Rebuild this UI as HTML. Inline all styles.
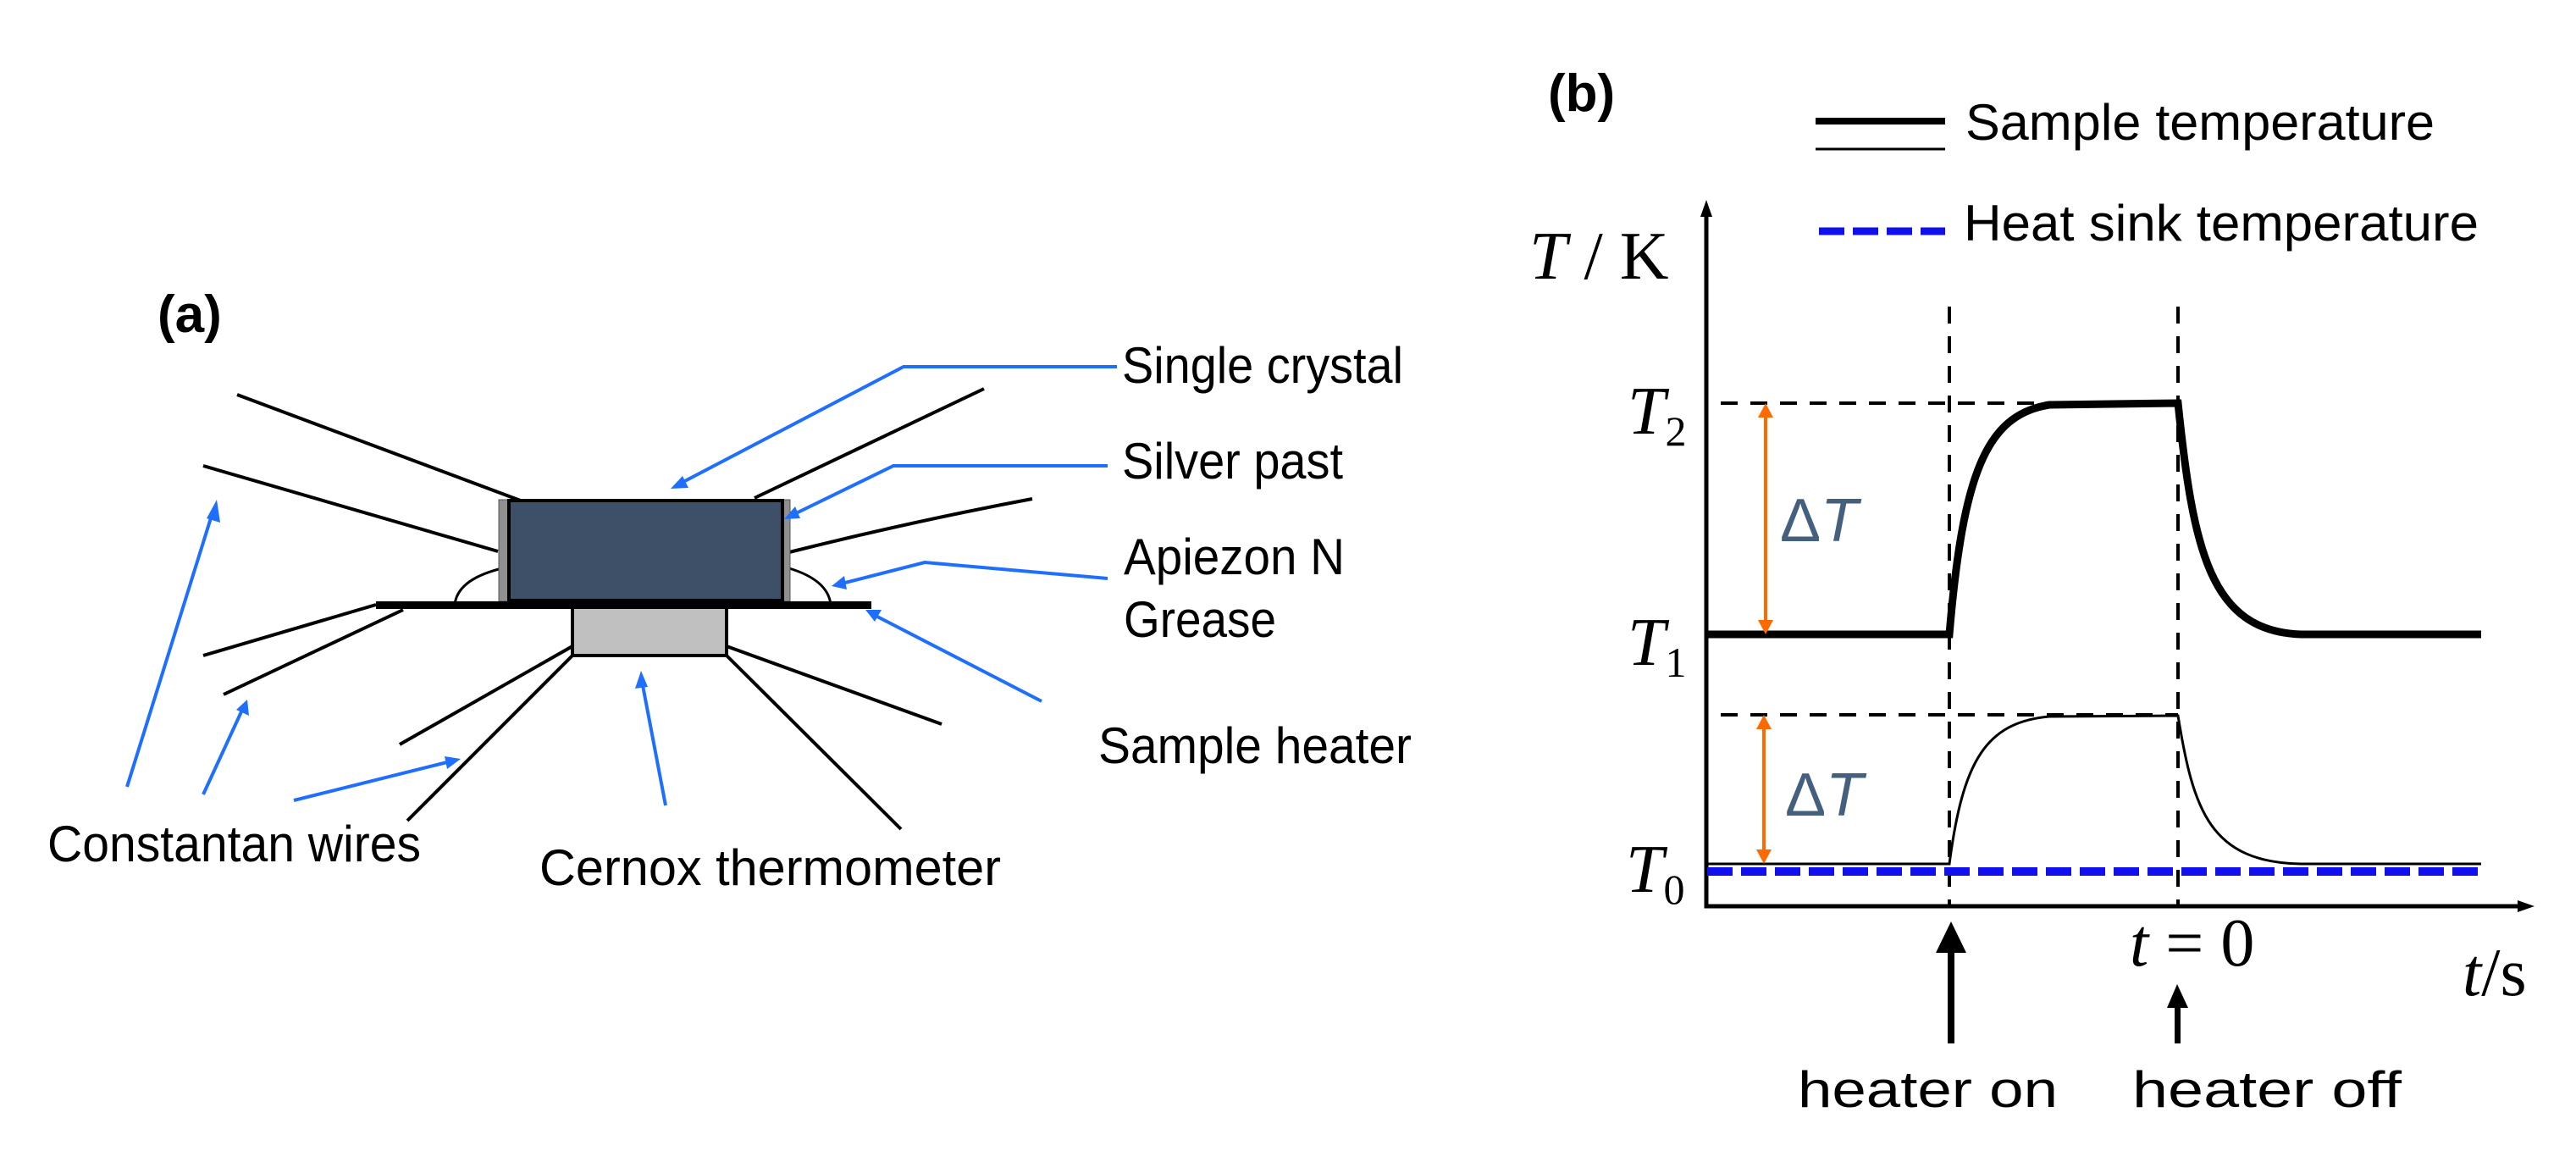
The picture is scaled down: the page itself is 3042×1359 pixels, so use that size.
<!DOCTYPE html>
<html><head><meta charset="utf-8"><style>html,body{margin:0;padding:0;background:#fff}svg{display:block}</style></head>
<body>
<svg width="3042" height="1359" viewBox="0 0 3042 1359" xmlns="http://www.w3.org/2000/svg">
<!-- Panel (a) -->
<text x="186" y="392" font-family="Liberation Sans, sans-serif" font-weight="bold" font-size="62">(a)</text>
<g stroke="#000" stroke-width="4" fill="none">
<line x1="280" y1="466" x2="620" y2="593"/>
<line x1="240" y1="550" x2="588" y2="651"/>
<line x1="891" y1="588" x2="1162" y2="459"/>
<path d="M932,652 Q1080,615 1219,589"/>
<line x1="240" y1="774" x2="444" y2="714"/>
<line x1="264" y1="820" x2="476" y2="720"/>
<line x1="472" y1="879" x2="676" y2="763"/>
<line x1="481" y1="969" x2="676" y2="774"/>
<line x1="858" y1="763" x2="1112" y2="855"/>
<line x1="858" y1="774" x2="1064" y2="979"/>
<path d="M537,714 Q540,685 589,672" stroke-width="3"/>
<path d="M932,671 Q978,685 981,714" stroke-width="3"/>
</g>
<rect x="589" y="590" width="12" height="120" fill="#909090" stroke="#555" stroke-width="1"/>
<rect x="924" y="590" width="9" height="120" fill="#909090" stroke="#555" stroke-width="1"/>
<rect x="601" y="591" width="323" height="118" fill="#3d5068" stroke="#000" stroke-width="4"/>
<rect x="444" y="710" width="585" height="9" fill="#000"/>
<rect x="676" y="717" width="182" height="57" fill="#c0c0c0" stroke="#000" stroke-width="4"/>
<g stroke="#1f6fff" stroke-width="4" fill="none">
<line x1="150" y1="929" x2="252" y2="602"/>
<line x1="240" y1="938" x2="287" y2="836"/>
<line x1="347" y1="945" x2="532" y2="899"/>
<line x1="786" y1="951" x2="758" y2="804"/>
<polyline points="1319,433 1067,433 803,571"/>
<polyline points="1308,550 1055,550 936,608"/>
<polyline points="1308,683 1092,664 994,689"/>
<line x1="1230" y1="828" x2="1034" y2="727"/>
</g>
<g fill="#1f6fff">
<polygon points="256,590 260,617 244,612"/>
<polygon points="292,826 294,845 279,838"/>
<polygon points="544,896 528,908 525,893"/>
<polygon points="757,792 765,811 750,813"/>
<polygon points="792,577 806,562 813,576"/>
<polygon points="926,613 939,598 945,612"/>
<polygon points="982,692 997,680 1000,696"/>
<polygon points="1022,720 1041,720 1033,734"/>
</g>
<g font-family="Liberation Sans, sans-serif" font-size="60" fill="#000">
<text x="1325" y="452" textLength="332" lengthAdjust="spacingAndGlyphs">Single crystal</text>
<text x="1325" y="565" textLength="261" lengthAdjust="spacingAndGlyphs">Silver past</text>
<text x="1327" y="678" textLength="261" lengthAdjust="spacingAndGlyphs">Apiezon N</text>
<text x="1327" y="752" textLength="180" lengthAdjust="spacingAndGlyphs">Grease</text>
<text x="1297" y="901" textLength="370" lengthAdjust="spacingAndGlyphs">Sample heater</text>
<text x="56" y="1017" textLength="441" lengthAdjust="spacingAndGlyphs">Constantan wires</text>
<text x="637" y="1045" textLength="545" lengthAdjust="spacingAndGlyphs">Cernox thermometer</text>
</g>
<!-- Panel (b) -->
<text x="1828" y="131" font-family="Liberation Sans, sans-serif" font-weight="bold" font-size="62">(b)</text>
<line x1="2144" y1="143" x2="2297" y2="143" stroke="#000" stroke-width="8"/>
<line x1="2144" y1="176" x2="2297" y2="176" stroke="#000" stroke-width="3"/>
<line x1="2148" y1="273" x2="2297" y2="273" stroke="#1010ee" stroke-width="9" stroke-dasharray="30,10"/>
<g font-family="Liberation Sans, sans-serif" font-size="60" fill="#000">
<text x="2321" y="165" textLength="554" lengthAdjust="spacingAndGlyphs">Sample temperature</text>
<text x="2319" y="284" textLength="608" lengthAdjust="spacingAndGlyphs">Heat sink temperature</text>
<text x="2123" y="1307" textLength="307" lengthAdjust="spacingAndGlyphs">heater on</text>
<text x="2518" y="1307" textLength="318" lengthAdjust="spacingAndGlyphs">heater off</text>
</g>
<g stroke="#000" stroke-width="5" fill="none">
<polyline points="2015,250 2015,1070 2980,1070"/>
</g>
<polygon points="2015,236 2008,256 2022,256" fill="#000"/>
<polygon points="2993,1070 2973,1063 2973,1077" fill="#000"/>
<g stroke="#000" stroke-width="4" stroke-dasharray="20,15" fill="none">
<line x1="2302" y1="362" x2="2302" y2="1070"/>
<line x1="2572" y1="362" x2="2572" y2="1070"/>
<line x1="2032" y1="476" x2="2572" y2="476"/>
<line x1="2032" y1="844" x2="2572" y2="844"/>
</g>
<path d="M2015,749 L2302,749 C2318,560 2345,490 2420,478 L2572,476 C2590,650 2610,745 2717,749 L2930,749" stroke="#000" stroke-width="9" fill="none"/>
<path d="M2015,1020 L2302,1020 C2318,898 2345,853 2420,846 L2572,845 C2590,957 2610,1018 2717,1020 L2930,1020" stroke="#000" stroke-width="3" fill="none"/>
<line x1="2016" y1="1029" x2="2930" y2="1029" stroke="#1010ee" stroke-width="10" stroke-dasharray="30,10"/>
<g stroke="#ff6a00" stroke-width="4">
<line x1="2085" y1="490" x2="2085" y2="735"/>
<line x1="2083" y1="858" x2="2083" y2="1006"/>
</g>
<g fill="#ff6a00">
<polygon points="2085,476 2076,493 2094,493"/>
<polygon points="2085,749 2076,732 2094,732"/>
<polygon points="2083,844 2074,861 2092,861"/>
<polygon points="2083,1020 2074,1003 2092,1003"/>
</g>
<g font-family="Liberation Sans, sans-serif" font-size="72" fill="#44607e">
<text x="2102" y="639">Δ<tspan font-style="italic">T</tspan></text>
<text x="2108" y="963">Δ<tspan font-style="italic">T</tspan></text>
</g>
<rect x="2300" y="1120" width="8" height="112" fill="#000"/>
<polygon points="2304,1088 2286,1125 2322,1125" fill="#000"/>
<rect x="2568" y="1188" width="7" height="44" fill="#000"/>
<polygon points="2571,1162 2559,1190 2584,1190" fill="#000"/>
<g font-family="Liberation Serif, serif" font-size="80" fill="#000">
<text x="1806" y="329"><tspan font-style="italic">T</tspan> / K</text>
<text x="1922" y="512"><tspan font-style="italic">T</tspan><tspan font-size="50" dy="14">2</tspan></text>
<text x="1922" y="785"><tspan font-style="italic">T</tspan><tspan font-size="50" dy="14">1</tspan></text>
<text x="1920" y="1053"><tspan font-style="italic">T</tspan><tspan font-size="50" dy="14">0</tspan></text>
<text x="2515" y="1140"><tspan font-style="italic">t</tspan> = 0</text>
<text x="2908" y="1175"><tspan font-style="italic">t</tspan>/s</text>
</g>
</svg>
</body></html>
